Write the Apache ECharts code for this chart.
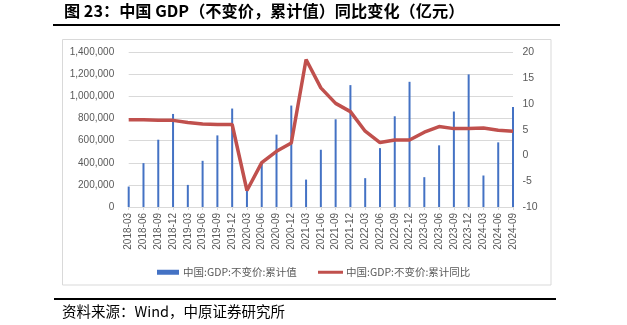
<!DOCTYPE html>
<html>
<head>
<meta charset="utf-8">
<script src="https://cdn.jsdelivr.net/npm/echarts@6/dist/echarts.min.js"></script>
<style>
html,body{margin:0;padding:0;background:#fff;}
#c{width:627px;height:325px;}
</style>
</head>
<body>
<div id="c"></div>
<script>
const categories = ['2018-03','2018-06','2018-09','2018-12','2019-03','2019-06','2019-09','2019-12','2020-03','2020-06','2020-09','2020-12','2021-03','2021-06','2021-09','2021-12','2022-03','2022-06','2022-09','2022-12','2023-03','2023-06','2023-09','2023-12','2024-03','2024-06','2024-09'];
const gdpCumulative = [185000,397000,609000,842000,200000,418000,648000,891000,170000,406000,655000,918000,248000,518000,794000,1103000,261000,533000,821000,1133000,270000,558000,864000,1200000,285000,585000,906000];
const gdpYoY = [6.9,6.9,6.8,6.8,6.4,6.1,6.0,6.0,-6.8,-1.4,0.8,2.4,18.6,13.1,10.1,8.5,4.7,2.5,3.0,3.0,4.5,5.6,5.2,5.2,5.3,4.9,4.7];
const barName = '中国:GDP:不变价:累计值';
const lineName = '中国:GDP:不变价:累计同比';
const titleText = '图 23：中国 GDP（不变价，累计值）同比变化（亿元）';
const sourceText = '资料来源：Wind，中原证券研究所';

const chart = echarts.init(document.getElementById('c'), null, {renderer:'canvas'});
const labelColor = '#595959';
const gridColor = '#d9d9d9';
chart.setOption({
  animation:false,
  backgroundColor:'#fff',
  textStyle:{fontFamily:'"Liberation Sans", Arial, sans-serif'},
  grid:{left:128.7, right:114, top:52.3, bottom:118, containLabel:false},
  legend:[
    {data:[barName], left:152, top:262, itemWidth:22, itemHeight:5, icon:'rect', itemGap:4,
     textStyle:{color:labelColor, fontSize:10.5, fontFamily:'"Noto Sans CJK SC", sans-serif', padding:[0,0,0,-1]}},
    {data:[lineName], left:313, top:262, itemWidth:25, itemHeight:3, icon:'rect', itemGap:4,
     textStyle:{color:labelColor, fontSize:10.5, fontFamily:'"Noto Sans CJK SC", sans-serif', padding:[0,0,0,-2]}}
  ],
  xAxis:{
    type:'category', data:categories, boundaryGap:false,
    axisLine:{show:true, lineStyle:{color:gridColor}},
    axisTick:{show:true, length:3, lineStyle:{color:gridColor}, alignWithLabel:true},
    axisLabel:{rotate:90, color:labelColor, fontSize:10, margin:6, interval:0}
  },
  yAxis:[
    {type:'value', min:0, max:1400000, interval:200000, position:'left',
     axisLine:{show:false}, axisTick:{show:false},
     splitLine:{lineStyle:{color:gridColor, width:1}},
     axisLabel:{color:labelColor, fontSize:10, margin:14.5,
       formatter:v=>v.toString().replace(/\B(?=(\d{3})+(?!\d))/g, ',')}},
    {type:'value', min:-10, max:20, interval:5, position:'right',
     axisLine:{show:false}, axisTick:{show:false}, splitLine:{show:false},
     axisLabel:{color:labelColor, fontSize:10.5, margin:9.5}}
  ],
  series:[
    {name:barName, type:'bar', yAxisIndex:0, data:gdpCumulative, barWidth:2,
     itemStyle:{color:'#4472C4'}, z:2},
    {name:lineName, type:'line', yAxisIndex:1, data:gdpYoY, symbol:'none',
     lineStyle:{color:'#C0504D', width:3.5}, itemStyle:{color:'#C0504D'}, z:3}
  ],
  graphic:[
    {type:'text', left:64, top:3, style:{text:titleText, fill:'#000', font:'bold 16.2px "Noto Sans CJK SC", sans-serif'}},
    {type:'line', shape:{x1:53, y1:25, x2:560, y2:25}, style:{stroke:'#000', lineWidth:2}},
    {type:'rect', shape:{x:62.5, y:39.5, width:488.5, height:245.5}, style:{fill:'none', stroke:gridColor, lineWidth:1}, z:-1},
    {type:'line', shape:{x1:54, y1:299, x2:556, y2:299}, style:{stroke:'#000', lineWidth:2}},
    {type:'text', left:62, top:304, style:{text:sourceText, fill:'#000', font:'14.5px "Noto Sans CJK SC", sans-serif'}}
  ]
});
</script>
</body>
</html>
